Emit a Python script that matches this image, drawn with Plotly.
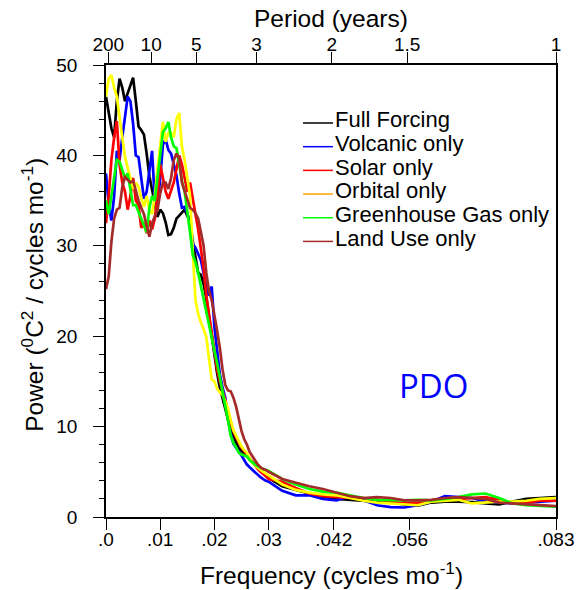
import plotly.graph_objects as go

# ---------------- data ----------------
FREQ = [0.0, 0.0005, 0.001, 0.0015, 0.002, 0.0025, 0.003, 0.0035, 0.004, 0.0045,
        0.005, 0.0055, 0.006, 0.0065, 0.007, 0.0075, 0.008, 0.0085, 0.009, 0.0095,
        0.010, 0.0105, 0.011, 0.0115, 0.012, 0.0125, 0.013, 0.0135, 0.014, 0.0145,
        0.015, 0.0155, 0.016, 0.0165, 0.017, 0.0175, 0.018, 0.0185, 0.019, 0.0195,
        0.020, 0.0205, 0.021, 0.0215, 0.022, 0.0225, 0.023, 0.0235, 0.024, 0.0245,
        0.025, 0.0255, 0.026, 0.0265, 0.027, 0.0275, 0.028, 0.0285, 0.029, 0.0295,
        0.030, 0.0325, 0.035, 0.0375, 0.040, 0.0425, 0.045, 0.0475, 0.050, 0.0525,
        0.055, 0.0575, 0.060, 0.0625, 0.065, 0.0675, 0.070, 0.0725, 0.075, 0.0775,
        0.080, 0.083]

FULL_FORCING = [46.5, 44.8, 43.0, 42.0, 46.0, 48.5, 47.5, 46.0, 46.9, 47.6,
                48.6, 46.0, 43.2, 42.8, 42.3, 40.2, 37.7, 36.2, 34.5, 33.2,
                34.0, 33.6, 32.6, 31.2, 31.3, 32.0, 33.0, 33.3, 33.7, 34.0,
                33.3, 32.8, 30.5, 28.8, 27.0, 26.8, 25.8, 24.2, 22.0, 19.8,
                17.5, 15.9, 14.3, 13.1, 12.2, 10.8, 10.0, 9.0, 8.2, 7.6,
                7.3, 7.0, 6.6, 6.3, 6.0, 5.7, 5.4, 5.1, 4.8, 4.5, 4.3,
                3.4, 3.0, 2.6, 2.2, 2.0, 1.9, 1.85, 1.7, 1.6, 1.4,
                1.25, 1.6, 1.7, 1.7, 1.65, 1.5, 1.4, 1.7, 2.0, 2.1, 2.2]

VOLCANIC = [38.0, 34.5, 32.8, 35.5, 40.5, 39.5, 42.0, 44.5, 46.5, 46.0,
            43.5, 40.0, 39.8, 37.5, 35.2, 36.0, 38.5, 40.5, 35.0, 34.3,
            37.5, 41.2, 41.8, 40.6, 40.2, 39.0, 37.8, 35.8, 34.2, 34.3,
            33.6, 32.5, 30.2, 29.8, 29.0, 28.4, 27.0, 25.5, 24.5, 25.5,
            21.0, 18.3, 15.8, 14.3, 13.2, 10.8, 9.2, 8.1, 7.6, 7.2,
            6.8, 6.3, 5.8, 5.5, 5.2, 5.0, 4.7, 4.4, 4.2, 4.0, 3.9,
            2.9, 2.4, 2.4, 2.0, 1.85, 2.3, 1.85, 1.3, 1.1, 1.05,
            1.3, 1.7, 2.3, 2.2, 2.1, 1.7, 1.6, 1.5, 1.6, 1.7, 1.8]

SOLAR = [32.5, 35.5, 39.5, 42.0, 43.8, 39.0, 37.0, 36.0, 34.0, 35.5,
         37.5, 35.0, 34.5, 32.0, 32.5, 31.4, 32.8, 31.8, 33.0, 35.5,
         39.0, 37.5, 36.0, 35.2, 36.0, 37.0, 38.5, 40.0, 39.0, 37.5,
         36.0, 37.0, 35.0, 33.5, 31.8, 29.5, 27.5, 24.5, 22.5, 20.5,
         18.0, 16.3, 15.0, 14.0, 12.9, 11.6, 10.6, 9.5, 8.8, 8.2,
         7.7, 7.3, 6.9, 6.4, 6.0, 5.6, 5.3, 5.0, 4.8, 4.5, 4.2,
         3.9, 3.2, 2.6, 2.3, 2.2, 2.1, 2.1, 1.9, 1.7, 1.5,
         1.6, 1.8, 1.9, 2.0, 2.1, 2.2, 1.9, 1.5, 1.6, 1.8, 1.8]

ORBITAL = [46.5, 48.5, 48.9, 47.5, 46.5, 44.5, 42.0, 39.8, 38.6, 37.5,
           36.3, 37.0, 36.5, 35.3, 34.3, 35.5, 34.0, 33.5, 35.5, 38.5,
           41.5, 43.7, 41.5, 42.5, 42.5, 42.0, 44.0, 44.7, 41.0, 39.5,
           37.5, 35.5, 29.5, 24.0, 22.5, 21.5, 20.8, 19.9, 17.5, 15.2,
           15.0, 14.2, 13.8, 13.5, 12.8, 12.0, 10.7, 9.6, 9.0, 8.3,
           7.8, 7.4, 7.1, 6.5, 6.0, 5.7, 5.4, 5.2, 5.0, 4.8, 4.6,
           3.6, 3.0, 2.7, 2.5, 2.4, 2.1, 1.8, 1.6, 1.5, 1.4,
           1.3, 1.7, 1.8, 1.9, 1.5, 1.6, 1.7, 1.7, 1.8, 2.0, 2.1]

GREENHOUSE = [35.0, 33.5, 35.5, 37.5, 39.5, 39.3, 38.5, 37.5, 38.0, 36.0,
              34.5, 34.5, 33.8, 33.0, 32.3, 31.5, 34.2, 35.5, 35.0, 37.5,
              40.6, 42.6, 43.0, 43.7, 42.0, 41.0, 40.8, 39.0, 37.2, 36.0,
              34.0, 31.5, 29.0, 28.2, 27.0, 25.5, 24.0, 22.5, 21.2, 19.8,
              18.4, 17.0, 15.5, 13.8, 12.2, 10.7, 9.0, 8.2, 7.7, 7.1,
              6.9, 6.8, 6.7, 6.3, 6.0, 5.8, 5.6, 5.4, 5.3, 5.2, 5.1,
              4.2, 3.6, 3.1, 2.8, 2.7, 2.4, 2.1, 1.9, 1.85, 1.85,
              1.9, 1.85, 2.0, 2.2, 2.5, 2.6, 2.1, 1.5, 1.3, 1.2, 1.15]

LAND_USE = [25.2, 26.6, 30.5, 33.0, 34.0, 34.2, 36.5, 37.6, 37.3, 37.0,
            37.2, 36.0, 35.0, 34.2, 33.5, 32.2, 31.0, 32.5, 33.3, 34.0,
            35.8, 37.0, 37.0, 36.3, 37.5, 39.5, 40.2, 39.6, 37.0, 36.0,
            35.0, 34.2, 34.0, 33.6, 33.0, 31.5, 30.0, 27.0, 25.0, 24.0,
            22.5, 20.6, 18.7, 16.3, 14.6, 14.0, 13.9, 13.2, 12.2, 10.8,
            9.5, 8.6, 8.0, 7.2, 6.7, 6.2, 5.8, 5.5, 5.3, 5.2, 5.0,
            4.2, 3.8, 3.4, 3.1, 2.7, 2.3, 2.1, 2.2, 2.1, 1.85,
            1.85, 1.9, 2.1, 2.2, 2.1, 2.0, 1.6, 1.5, 1.4, 1.3, 1.2]

SERIES_NAMES = ["Full Forcing", "Volcanic only", "Solar only", "Orbital only",
                "Greenhouse Gas only", "Land Use only"]
SERIES_VALUES = [FULL_FORCING, VOLCANIC, SOLAR, ORBITAL, GREENHOUSE, LAND_USE]
LINE_COLORS = ["#000000", "#0000FF", "#FF0000", "#FFFF00", "#00FF00", "#A52A2A"]
LEGEND_COLORS = ["#000000", "#0000FF", "#FF0000", "#FFA500", "#00FF00", "#A52A2A"]

FREQ_TICKS = [0.0, 0.01, 0.02, 0.03, 0.042, 0.056, 0.083]
FREQ_LABELS = [".0", ".01", ".02", ".03", ".042", ".056", ".083"]
PERIOD_YEARS = [200, 10, 5, 3, 2, 1.5, 1]
PERIOD_LABELS = ["200", "10", "5", "3", "2", "1.5", "1"]
X_MAX = 0.083

# ---------------- figure ----------------
FONT = "Liberation Sans, Arial, Helvetica, sans-serif"
fig = go.Figure()

for name, vals, col in zip(SERIES_NAMES, SERIES_VALUES, LINE_COLORS):
    fig.add_trace(go.Scatter(x=FREQ, y=vals, mode="lines", name=name,
                             line=dict(color=col, width=2.7),
                             showlegend=False, hoverinfo="skip"))

# empty trace so that the top (period) axis is drawn
fig.add_trace(go.Scatter(x=[None], y=[None], xaxis="x2", yaxis="y",
                         mode="lines", showlegend=False, hoverinfo="skip"))

# top axis: period in years -> frequency (cycles/month); the 1-year tick sits on the edge
period_freqs = [min(1.0 / (12.0 * p), X_MAX) for p in PERIOD_YEARS]

fig.update_layout(
    width=576, height=590,
    margin=dict(l=106, r=20, t=65, b=73, autoexpand=False),
    paper_bgcolor="white", plot_bgcolor="white",
    font=dict(family=FONT, color="black"),
    showlegend=False,
    xaxis=dict(range=[0, X_MAX], tickmode="array", tickvals=FREQ_TICKS,
               ticktext=FREQ_LABELS, ticks="outside", ticklen=11, tickwidth=1,
               tickcolor="black", showline=True, linecolor="black", linewidth=1.5,
               showgrid=False, zeroline=False, tickfont=dict(size=19),
               automargin=False),
    xaxis2=dict(range=[0, X_MAX], overlaying="x", side="top", anchor="y",
                tickmode="array", tickvals=period_freqs, ticktext=PERIOD_LABELS,
                ticks="outside", ticklen=11, tickwidth=1, tickcolor="black",
                showline=True, linecolor="black", linewidth=1.5,
                showgrid=False, zeroline=False, tickfont=dict(size=19),
                automargin=False),
    yaxis=dict(range=[0, 50], tickmode="linear", tick0=0, dtick=10,
               ticks="outside", ticklen=11, tickwidth=1, tickcolor="black",
               minor=dict(dtick=2, ticks="outside", ticklen=5, tickwidth=1,
                          tickcolor="black", showgrid=False),
               showline=True, mirror=True, linecolor="black", linewidth=1.5,
               showgrid=False, zeroline=False, tickfont=dict(size=19),
               ticklabelstandoff=12, automargin=False),
)

# pull the x tick labels a little closer to their axes
try:
    fig.update_layout(xaxis=dict(ticklabelstandoff=-7),
                      xaxis2=dict(ticklabelstandoff=-6))
except ValueError:
    pass

# axis titles as annotations
fig.add_annotation(text="Frequency (cycles mo<sup>-1</sup>)", xref="paper", yref="paper",
                   x=0.5, y=-0.126, xanchor="center", yanchor="middle",
                   showarrow=False, font=dict(size=24.5, family=FONT))
fig.add_annotation(text="Period (years)", xref="paper", yref="paper",
                   x=0.5, y=1.102, xanchor="center", yanchor="middle",
                   showarrow=False, font=dict(size=24.5, family=FONT))
fig.add_annotation(text="Power (<sup>0</sup>C<sup>2</sup> / cycles mo<sup>-1</sup>)",
                   xref="paper", yref="paper", x=-0.165, y=0.491, textangle=-90,
                   xanchor="center", yanchor="middle", showarrow=False,
                   font=dict(size=24.5, family=FONT))

# PDO label
fig.add_annotation(text="PDO", xref="paper", yref="paper", x=0.727, y=0.29,
                   xanchor="center", yanchor="middle", showarrow=False,
                   font=dict(size=33, family="Open Sans", color="#0000FF"))

# custom legend
LEG_X0, LEG_X1, LEG_TX = 0.4378, 0.5044, 0.505
LEG_Y0, LEG_DY = 0.8717, 0.0524
for i, (name, col) in enumerate(zip(SERIES_NAMES, LEGEND_COLORS)):
    yy = LEG_Y0 - i * LEG_DY
    fig.add_shape(type="line", xref="paper", yref="paper", x0=LEG_X0, x1=LEG_X1,
                  y0=yy, y1=yy, line=dict(color=col, width=1.5))
    fig.add_annotation(text=name, xref="paper", yref="paper", x=LEG_TX, y=yy + 0.007,
                       xanchor="left", yanchor="middle", showarrow=False,
                       font=dict(size=22, family=FONT))

fig.write_html("out.html")
